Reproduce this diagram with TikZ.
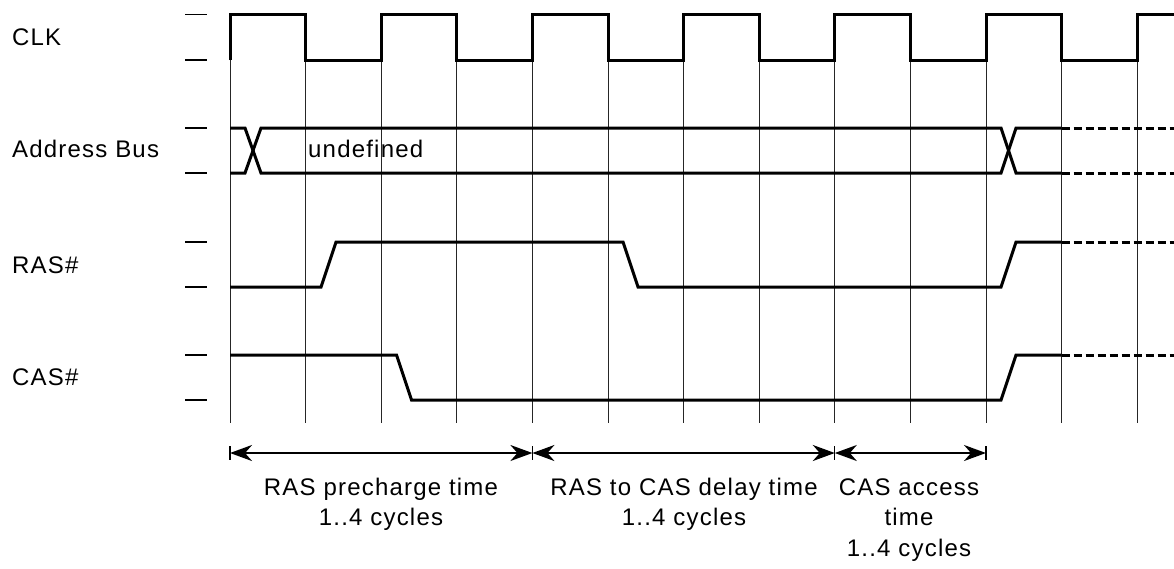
\documentclass[tikz,border=0pt]{standalone}
\usepackage{fontspec}
\setmainfont{Liberation Sans}[LetterSpace=5]
\usetikzlibrary{arrows.meta}
\begin{document}
\begin{tikzpicture}[x=1pt,y=-1pt,
  sig/.style={line width=3pt},
  ext/.style={line width=3pt, dash pattern=on 8pt off 4pt},
  gridline/.style={line width=1pt, black!85},
  lvl/.style={line width=1.3pt},
  dimarrow/.style={line width=2pt, {Stealth[length=22pt,width=16pt,inset=7pt]}-{Stealth[length=22pt,width=16pt,inset=7pt]}},
  lbl/.style={font=\fontsize{24}{30}\selectfont, inner sep=0pt},
]
\useasboundingbox (0,0) rectangle (1174,568);

% grid lines
\foreach \k in {0,...,12}
  \draw[gridline] ({230+75.6*\k},60) -- ({230+75.6*\k},423);

% level ticks
\foreach \yy in {14.5,60,128,173,242,287,355,400}
  \draw[lvl] (185,\yy) -- (207,\yy);

% signal names
\node[lbl, anchor=base west] (clk) at (12,45) {CLK};
\node[lbl, anchor=base west] (addr) at (12,157) {Address Bus};
\node[lbl, anchor=base west] (ras) at (12,273) {RAS\#};
\node[lbl, anchor=base west] (cas) at (12,385) {CAS\#};

% CLK
\draw[sig] (230,60) -- (230,14.5) -- (305.6,14.5) -- (305.6,60) -- (381.2,60) -- (381.2,14.5)
  -- (456.8,14.5) -- (456.8,60) -- (532.4,60) -- (532.4,14.5) -- (608,14.5) -- (608,60)
  -- (683.6,60) -- (683.6,14.5) -- (759.2,14.5) -- (759.2,60) -- (834.8,60) -- (834.8,14.5)
  -- (910.4,14.5) -- (910.4,60) -- (986,60) -- (986,14.5) -- (1061.6,14.5) -- (1061.6,60)
  -- (1137.2,60) -- (1137.2,14.5) -- (1174,14.5);

% Address bus
\draw[sig] (230,128) -- (245,128) -- (261,173) -- (1001,173) -- (1016,128) -- (1061.6,128);
\draw[sig] (230,173) -- (245,173) -- (261,128) -- (1001,128) -- (1016,173) -- (1061.6,173);
\draw[ext] (1061.6,128) -- (1174,128);
\draw[ext] (1061.6,173) -- (1174,173);
\node[lbl, anchor=base west] (undef) at (308,157) {undefined};

% RAS#
\draw[sig] (230,287) -- (321,287) -- (336,242) -- (623,242) -- (638,287) -- (1001,287) -- (1016,242) -- (1061.6,242);
\draw[ext] (1061.6,242) -- (1174,242);

% CAS#
\draw[sig] (230,355) -- (396.5,355) -- (411.5,400) -- (1001,400) -- (1016,355) -- (1061.6,355);
\draw[ext] (1061.6,355) -- (1174,355);

% dimension markers
\coordinate (m0) at (230,453);
\coordinate (m1) at (532.4,453);
\coordinate (m2) at (834.8,453);
\coordinate (m3) at (986,453);
\foreach \m in {m0,m1,m2,m3}
  \draw[lvl] ([yshift=7pt]\m) -- ([yshift=-7pt]\m);
\draw[dimarrow] (m0) -- (m1);
\draw[dimarrow] (m1) -- (m2);
\draw[dimarrow] (m2) -- (m3);

% timing labels
\node[lbl, anchor=base] (t1a) at (381,495) {RAS precharge time};
\node[lbl, anchor=base] (t1b) at (381,525) {1..4 cycles};
\node[lbl, anchor=base] (t2a) at (684,495) {RAS to CAS delay time};
\node[lbl, anchor=base] (t2b) at (684,525) {1..4 cycles};
\node[lbl, anchor=base] (t3a) at (909,495) {CAS access};
\node[lbl, anchor=base] (t3b) at (909,525.5) {time};
\node[lbl, anchor=base] (t3c) at (909,556) {1..4 cycles};
\end{tikzpicture}
\end{document}
